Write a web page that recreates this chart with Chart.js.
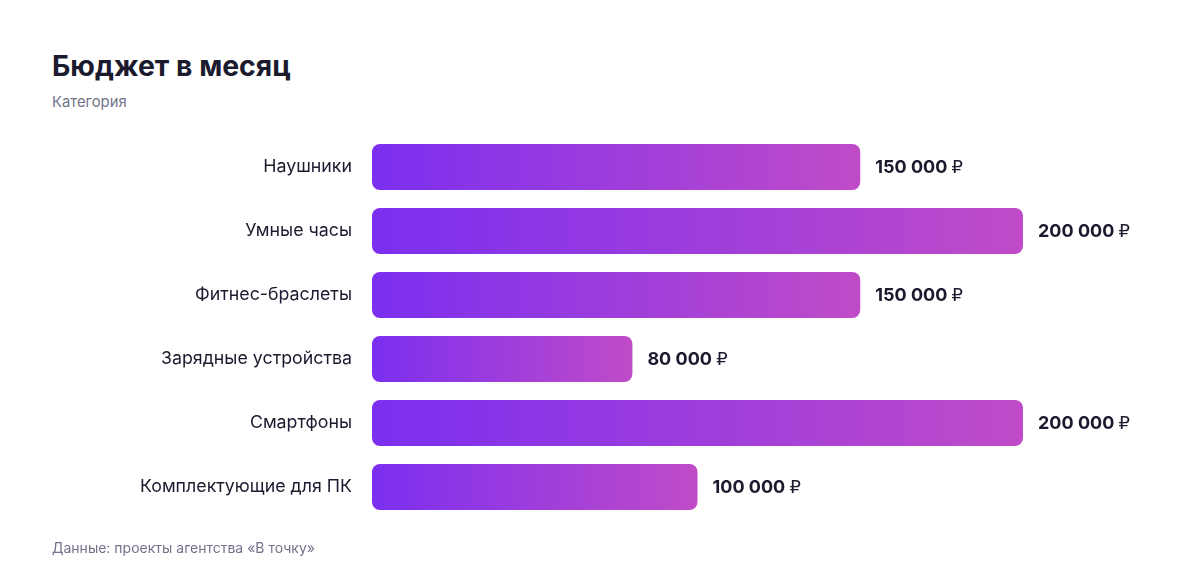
<!DOCTYPE html>
<html lang="ru">
<head>
<meta charset="utf-8">
<script src="https://cdn.jsdelivr.net/npm/chart.js@4"></script>
<style>
  html, body { margin: 0; padding: 0; background: #fff; }
  body { width: 1200px; height: 584px; position: relative; overflow: hidden; font-family: Inter, "Noto Sans", sans-serif; }
  #title { position: absolute; left: 52px; top: 48px; font-size: 28.4px; font-weight: 700; color: #1b1b2f; }
  #subtitle { position: absolute; left: 52px; top: 93px; font-size: 14.8px; color: #72738a; }
  #footer { position: absolute; left: 52px; top: 539px; font-size: 14px; color: #72738a; }
  #wrap { position: absolute; left: 0; top: 0; width: 1200px; height: 584px; }
</style>
</head>
<body>
<div id="title">Бюджет в месяц</div>
<div id="subtitle">Категория</div>
<div id="wrap"><canvas id="chart"></canvas></div>
<div id="footer">Данные: проекты агентства «В точку»</div>
<script>
const categories = ['Наушники', 'Умные часы', 'Фитнес-браслеты', 'Зарядные устройства', 'Смартфоны', 'Комплектующие для ПК'];
const budget = [150000, 200000, 150000, 80000, 200000, 100000];

function formatRub(v) {
  return String(v).replace(/\B(?=(\d{3})+(?!\d))/g, '\u00a0');
}

// gradient per bar, from bar start to bar end
function barGradient(ctx) {
  const chart = ctx.chart;
  const x = chart.scales.x;
  if (!chart.chartArea || !x || ctx.raw == null) return '#8b3ae8';
  const x0 = x.getPixelForValue(0);
  const x1 = x.getPixelForValue(ctx.raw);
  const g = chart.ctx.createLinearGradient(x0, 0, x1, 0);
  g.addColorStop(0, '#7b2ff0');
  g.addColorStop(1, '#c04bc8');
  return g;
}

const valueLabels = {
  id: 'valueLabels',
  afterDatasetsDraw(chart) {
    const c = chart.ctx;
    const meta = chart.getDatasetMeta(0);
    c.save();
    c.fillStyle = '#1b1b2f';
    c.textAlign = 'left';
    c.textBaseline = 'middle';
    meta.data.forEach((bar, i) => {
      const txt = formatRub(budget[i]);
      c.font = '700 18px Inter, "Noto Sans", sans-serif';
      c.fillText(txt, bar.x + 15, bar.y + 1);
      const w = c.measureText(txt + ' ').width;
      c.font = '500 18px "Liberation Sans", "DejaVu Sans", sans-serif';
      c.fillText('\u20bd', bar.x + 15 + w, bar.y + 1);
    });
    c.restore();
  }
};

new Chart(document.getElementById('chart'), {
  type: 'bar',
  data: {
    labels: categories,
    datasets: [{
      data: budget,
      backgroundColor: barGradient,
      borderRadius: 8,
      borderSkipped: false,
      categoryPercentage: 1,
      barPercentage: 0.72,
    }]
  },
  options: {
    indexAxis: 'y',
    responsive: true,
    maintainAspectRatio: false,
    animation: false,
    layout: { padding: { top: 135, bottom: 65, left: 0, right: 177 } },
    plugins: { legend: { display: false }, tooltip: { enabled: false } },
    scales: {
      x: { display: false, min: 0, max: 200000 },
      y: {
        afterFit: (s) => { s.width = 372; },
        grid: { display: false, drawTicks: false },
        border: { display: false },
        ticks: {
          padding: 20,
          color: '#1b1b2f',
          font: { family: 'Inter, "Noto Sans", sans-serif', size: 17.8 }
        }
      }
    }
  },
  plugins: [valueLabels]
});
</script>
</body>
</html>
